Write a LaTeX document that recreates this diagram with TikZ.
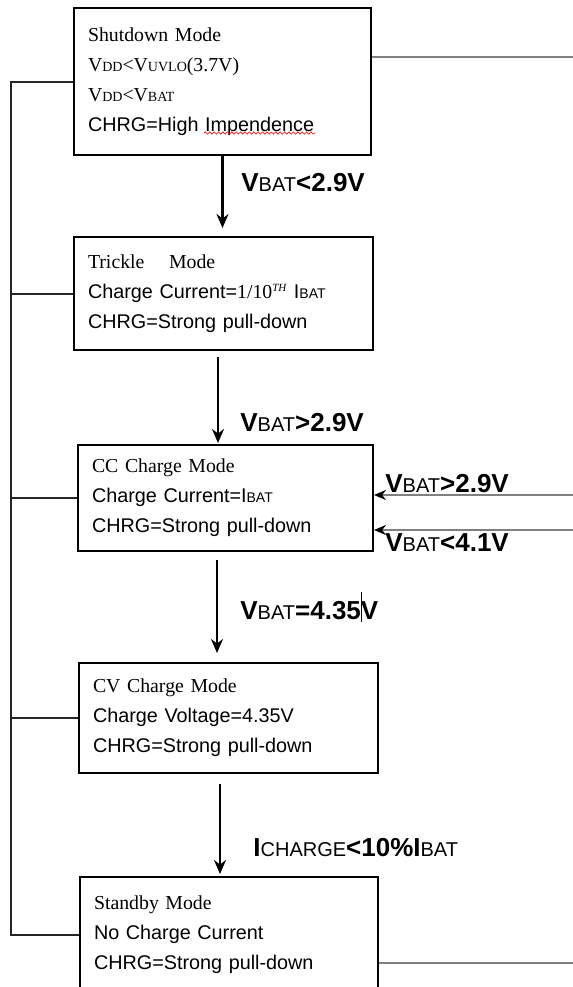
\documentclass[tikz,border=0pt]{standalone}
\usepackage{fontspec}
\setmainfont{Liberation Sans}
\newfontfamily\tms{Liberation Serif}
\usetikzlibrary{positioning, arrows.meta, decorations.pathmorphing}

\newcommand\smc[1]{{\fontsize{7}{7}\selectfont #1}}
\newcommand\lsc[1]{{\fontsize{10}{10}\selectfont\mdseries #1}}

\begin{document}
\begin{tikzpicture}[
        x=0.5pt, y=-0.5pt,
        >={Stealth[length=7pt, width=6pt]},
        mode/.style={draw, line width=1pt, rectangle, align=left, anchor=north west, inner xsep=7pt, inner ysep=0pt, font=\fontsize{9.9}{15}\selectfont},
        flow/.style={->, line width=1.25pt},
        bus/.style={line width=1pt, draw=black!85},
        side/.style={line width=1.1pt, draw=black!50},
        cond/.style={anchor=west, inner sep=0pt, font=\fontsize{13}{13}\selectfont\bfseries},
    ]
        \useasboundingbox (0,0) rectangle (573,987);

        % Draw the mode boxes
        \node[mode, text width=134.5pt, minimum height=73.5pt] (shut) at (73,7)
            {{\tms Shutdown Mode}\\ {\tms V\smc{DD}<V\smc{UVLO}(3.7V)}\\ {\tms V\smc{DD}<V\smc{BAT}}\\ CHRG=High Impendence};
        \node[mode, text width=135.5pt, minimum height=56.5pt] (trick) at (73,236)
            {{\tms Trickle\hspace{9pt} Mode}\\ Charge Current={\tms 1/10\textsuperscript{\itshape\fontsize{5.5}{5.5}\selectfont TH}} I\smc{BAT}\\ CHRG=Strong pull-down};
        \node[mode, text width=133.5pt, minimum height=53pt] (cc) at (77,444)
            {{\tms CC Charge Mode}\\ Charge Current=I\smc{BAT}\\ CHRG=Strong pull-down};
        \node[mode, text width=135.5pt, minimum height=55pt] (cv) at (78,662)
            {{\tms CV Charge Mode}\\ Charge Voltage=4.35V\\ CHRG=Strong pull-down};
        \node[mode, text width=135pt, minimum height=58pt] (stby) at (79,876)
            {{\tms Standby Mode}\\ No Charge Current\\ CHRG=Strong pull-down};

        % spell check mark
        \draw[red, line width=0.3pt, decorate, decoration={snake, amplitude=0.6pt, segment length=2.2pt}] (204,133) -- (315,133);

        % Connect every box to the left bus
        \coordinate (bus) at (11,0);
        \draw[bus] (shut.west) -- (shut.west -| bus) -- (stby.west -| bus) -- (stby.west);
        \foreach \m in {trick, cc, cv}
            \draw[bus] (\m.west) -- (\m.west -| bus);

        % Draw the transitions
        \draw[flow, shorten >=4pt] (shut.south) -- (shut.south |- trick.north);
        \draw[flow, shorten <=3pt, shorten >=0.5pt] ([xshift=-2.75pt]trick.south) -- ([xshift=-2.75pt]trick.south |- cc.north);
        \draw[flow, shorten <=4pt, shorten >=4.5pt] ([xshift=-4.25pt]cc.south) -- ([xshift=-4.25pt]cc.south |- cv.north);
        \draw[flow, shorten <=5pt, shorten >=1pt] ([xshift=-4.25pt]cv.south) -- ([xshift=-4.25pt]cv.south |- stby.north);

        \node[cond] (c1) at (241,183) {V\lsc{BAT}<2.9V};
        \node[cond] (c2) at (240,423) {V\lsc{BAT}>2.9V};
        \node[cond] (c3) at (240,607) {V\lsc{BAT}=4.35\rlap{\rule[-1.5pt]{0.6pt}{15pt}}V};
        \node[cond] (c4) at (253,848) {I\lsc{CHARGE}<10\%I\lsc{BAT}};

        % Lines on the right edge
        \coordinate (e1) at (573,57);
        \coordinate (e2) at (573,495);
        \coordinate (e3) at (573,530);
        \coordinate (e4) at (573,963);
        \draw[side] (shut.east |- e1) -- (e1);
        \draw[side, -{Stealth[length=6pt, width=5pt, color=black]}] (e2) -- (e2 -| cc.east);
        \draw[side, -{Stealth[length=6pt, width=5pt, color=black]}] (e3) -- (e3 -| cc.east);
        \draw[side] (stby.east |- e4) -- (e4);

        \node[cond] (c5) at (385,484) {V\lsc{BAT}>2.9V};
        \node[cond] (c6) at (385,543) {V\lsc{BAT}<4.1V};
    \end{tikzpicture}
\end{document}
